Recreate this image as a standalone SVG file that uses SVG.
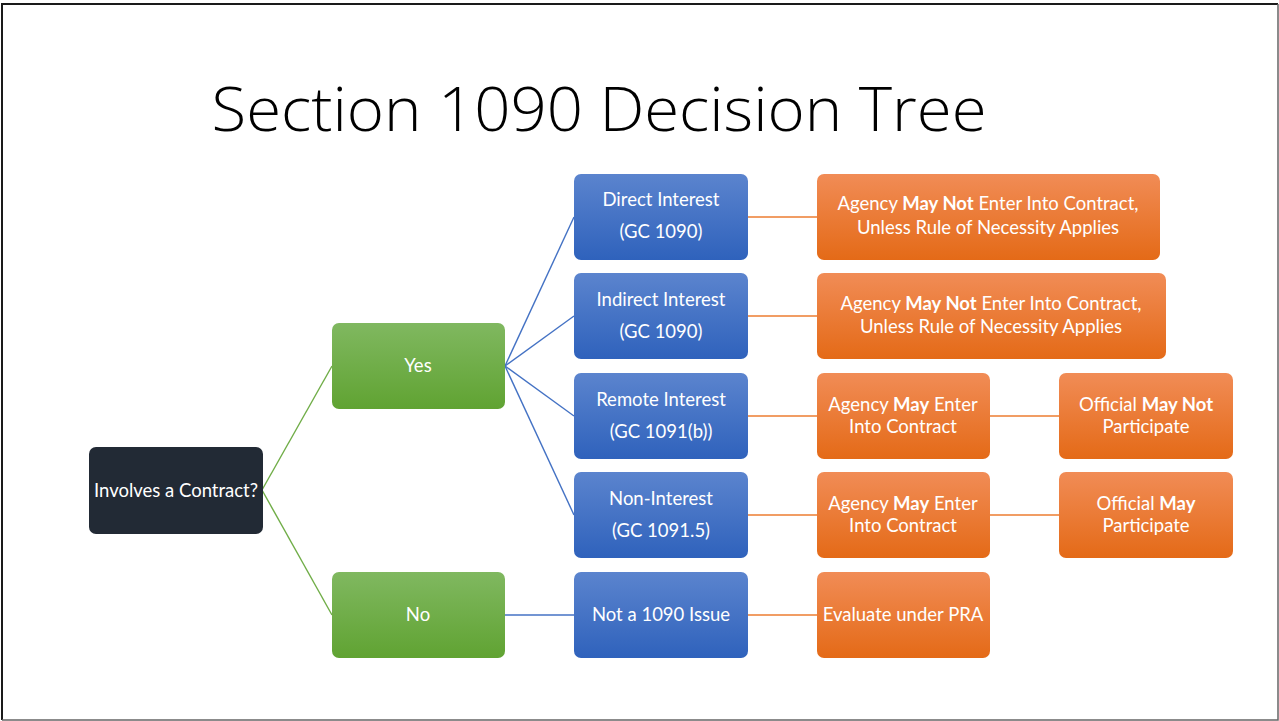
<svg xmlns="http://www.w3.org/2000/svg" width="1279" height="721" viewBox="0 0 1279 721">
<defs>
<linearGradient id="gGreen" x1="0" y1="0" x2="0" y2="1"><stop offset="0" stop-color="#80b860"/><stop offset="1" stop-color="#60a332"/></linearGradient>
<linearGradient id="gBlue" x1="0" y1="0" x2="0" y2="1"><stop offset="0" stop-color="#5b84ce"/><stop offset="1" stop-color="#2f62bc"/></linearGradient>
<linearGradient id="gOrange" x1="0" y1="0" x2="0" y2="1"><stop offset="0" stop-color="#f18c56"/><stop offset="1" stop-color="#e46a17"/></linearGradient>
<style>
.t{font-family:Lato,"Open Sans","Liberation Sans",sans-serif;font-size:18.5px;fill:#ffffff;text-anchor:middle}
.b{font-weight:bold}
.green{fill:url(#gGreen)}
.blue{fill:url(#gBlue)}
.orange{fill:url(#gOrange)}
.dark{fill:#222a35}
.cg{stroke:#70ad47;stroke-width:1.4;fill:none}
.cb{stroke:#4472c4;stroke-width:1.4;fill:none}
.co{stroke:#ed7d31;stroke-width:1.4;fill:none}
</style>
</defs>
<rect x="0" y="0" width="1279" height="721" fill="#ffffff"/>
<path d="M2,720 V4 H1278" fill="none" stroke="#1a1a1a" stroke-width="2"/>
<path d="M1278,4 V720 H2" fill="none" stroke="#666666" stroke-width="1.5"/>
<text x="599" y="131" font-family="'Open Sans','Liberation Sans',sans-serif" font-weight="300" font-size="60" fill="#000000" text-anchor="middle" textLength="775" lengthAdjust="spacingAndGlyphs">Section 1090 Decision Tree</text>
<g id="connectors">
<line class="cg" x1="262" y1="490" x2="332" y2="366"/>
<line class="cg" x1="262" y1="490" x2="332" y2="615"/>
<line class="cb" x1="505" y1="366" x2="574" y2="217"/>
<line class="cb" x1="505" y1="366" x2="574" y2="316"/>
<line class="cb" x1="505" y1="366" x2="574" y2="416"/>
<line class="cb" x1="505" y1="366" x2="574" y2="515"/>
<line class="cb" x1="505" y1="615" x2="574" y2="615"/>
<line class="co" x1="748" y1="217" x2="817" y2="217"/>
<line class="co" x1="748" y1="316" x2="817" y2="316"/>
<line class="co" x1="748" y1="416" x2="817" y2="416"/>
<line class="co" x1="748" y1="515" x2="817" y2="515"/>
<line class="co" x1="748" y1="615" x2="817" y2="615"/>
<line class="co" x1="990" y1="416" x2="1059" y2="416"/>
<line class="co" x1="990" y1="515" x2="1059" y2="515"/>
</g>
<g id="involves"><rect class="dark" x="89" y="447" width="174" height="87" rx="7"/><text class="t" x="176" y="497">Involves a Contract?</text></g>
<g id="yes"><rect class="green" x="332" y="323" width="173" height="86" rx="7"/><text class="t" x="418" y="372">Yes</text></g>
<g id="no"><rect class="green" x="332" y="572" width="173" height="86" rx="7"/><text class="t" x="418" y="621">No</text></g>
<g id="direct"><rect class="blue" x="574" y="174" width="174" height="86" rx="7"/><text class="t" x="661" y="206">Direct Interest</text><text class="t" x="661" y="238">(GC 1090)</text></g>
<g id="indirect"><rect class="blue" x="574" y="273" width="174" height="86" rx="7"/><text class="t" x="661" y="306">Indirect Interest</text><text class="t" x="661" y="338">(GC 1090)</text></g>
<g id="remote"><rect class="blue" x="574" y="373" width="174" height="86" rx="7"/><text class="t" x="661" y="406">Remote Interest</text><text class="t" x="661" y="438">(GC 1091(b))</text></g>
<g id="noninterest"><rect class="blue" x="574" y="472" width="174" height="86" rx="7"/><text class="t" x="661" y="505">Non-Interest</text><text class="t" x="661" y="537">(GC 1091.5)</text></g>
<g id="not1090"><rect class="blue" x="574" y="572" width="174" height="86" rx="7"/><text class="t" x="661" y="621">Not a 1090 Issue</text></g>
<g id="directResult"><rect class="orange" x="817" y="174" width="343" height="86" rx="7"/><text class="t" x="988" y="210">Agency <tspan class="b">May Not</tspan> Enter Into Contract,</text><text class="t" x="988" y="234">Unless Rule of Necessity Applies</text></g>
<g id="indirectResult"><rect class="orange" x="817" y="273" width="349" height="86" rx="7"/><text class="t" x="991" y="310">Agency <tspan class="b">May Not</tspan> Enter Into Contract,</text><text class="t" x="991" y="333">Unless Rule of Necessity Applies</text></g>
<g id="remoteAgency"><rect class="orange" x="817" y="373" width="173" height="86" rx="7"/><text class="t" x="903" y="411">Agency <tspan class="b">May</tspan> Enter</text><text class="t" x="903" y="433">Into Contract</text></g>
<g id="remoteOfficial"><rect class="orange" x="1059" y="373" width="174" height="86" rx="7"/><text class="t" x="1146" y="411">Official <tspan class="b">May Not</tspan></text><text class="t" x="1146" y="433">Participate</text></g>
<g id="nonAgency"><rect class="orange" x="817" y="472" width="173" height="86" rx="7"/><text class="t" x="903" y="510">Agency <tspan class="b">May</tspan> Enter</text><text class="t" x="903" y="532">Into Contract</text></g>
<g id="nonOfficial"><rect class="orange" x="1059" y="472" width="174" height="86" rx="7"/><text class="t" x="1146" y="510">Official <tspan class="b">May</tspan></text><text class="t" x="1146" y="532">Participate</text></g>
<g id="evaluate"><rect class="orange" x="817" y="572" width="173" height="86" rx="7"/><text class="t" x="903" y="621">Evaluate under PRA</text></g>
</svg>
